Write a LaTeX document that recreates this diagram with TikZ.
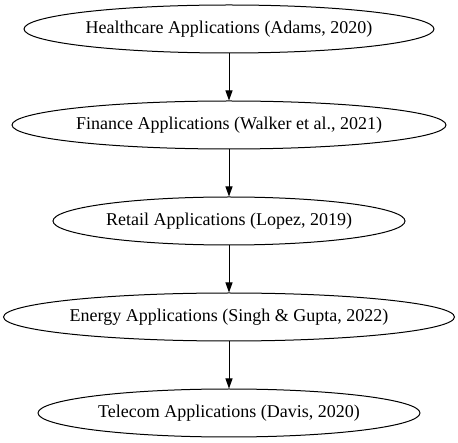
\documentclass[tikz,border=0pt]{standalone}
\usepackage{fontspec}
\setmainfont{Liberation Serif}
\usetikzlibrary{arrows.meta, shapes.geometric}

\begin{document}
\begin{tikzpicture}[
        x=1pt, y=1pt,
        >={Triangle[length=10pt, width=7pt]},
        app/.style={draw, ellipse, line width=1pt, minimum height=48pt, inner sep=0pt, font=\fontsize{18}{21}\selectfont},
        link/.style={->, line width=1pt}
    ]
    \useasboundingbox (0, 0) rectangle (458, -443);

    % --- Anwendungsfelder ---
    \node[app, minimum width=410pt] (healthcare) at (229, -29) {Healthcare Applications (Adams, 2020)};
    \node[app, minimum width=434pt] (finance) at (229, -125) {Finance Applications (Walker et al., 2021)};
    \node[app, minimum width=352pt] (retail) at (229, -221) {Retail Applications (Lopez, 2019)};
    \node[app, minimum width=451pt] (energy) at (229, -317) {Energy Applications (Singh \& Gupta, 2022)};
    \node[app, minimum width=382pt] (telecom) at (229, -413) {Telecom Applications (Davis, 2020)};

    % --- Edges ---
    \draw[link] (healthcare) -- (finance);
    \draw[link] (finance) -- (retail);
    \draw[link] (retail) -- (energy);
    \draw[link] (energy) -- (telecom);
\end{tikzpicture}
\end{document}
